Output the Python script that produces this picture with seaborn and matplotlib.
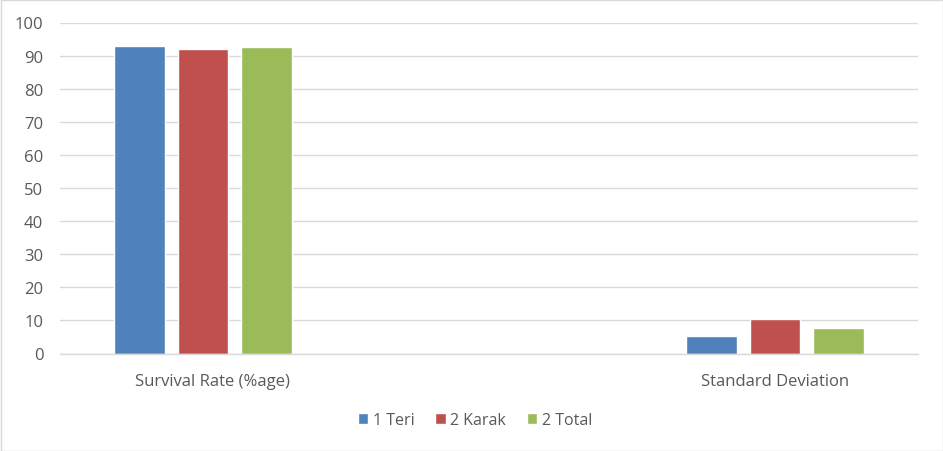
import matplotlib
matplotlib.use("Agg")
import matplotlib.pyplot as plt
import matplotlib.transforms as mtransforms
import seaborn as sns
import pandas as pd
import numpy as np
from matplotlib.patches import Rectangle

categories = ["Survival Rate (%age)", " ", "Standard Deviation"]
series_names = ["1 Teri", "2 Karak", "2 Total"]
teri = [92.9, np.nan, 5.3]
karak = [92.0, np.nan, 10.4]
total = [92.6, np.nan, 7.7]
colors = ["#4F81BD", "#C0504D", "#9BBB59"]
y_ticks = [0, 10, 20, 30, 40, 50, 60, 70, 80, 90, 100]

rows = []
for name, vals in zip(series_names, [teri, karak, total]):
    for c, v in zip(categories, vals):
        rows.append({"category": c, "series": name, "value": v})
df = pd.DataFrame(rows)

sns.set_theme(style="white")
plt.rcParams["font.family"] = ["Open Sans", "DejaVu Sans"]

fig = plt.figure(figsize=(9.43, 4.52), dpi=100)
ax = fig.add_axes([60/943, 1 - 354.5/452, (918-60)/943, (354.5-23.5)/452])

sns.barplot(data=df, x="category", y="value", hue="series", order=categories,
            hue_order=series_names, palette=colors, width=0.666, gap=0.21,
            saturation=1, ax=ax, legend=True, errorbar=None)

ax.set_ylim(0, 100)
ax.set_xlim(-0.5, 2.5)
ax.set_yticks(y_ticks)
ax.yaxis.grid(True, color="#D9D9D9", linewidth=1)
ax.set_axisbelow(True)
for s in ["left", "right", "top"]:
    ax.spines[s].set_visible(False)
ax.spines["bottom"].set_color("#D9D9D9")
ax.spines["bottom"].set_linewidth(1)
ax.tick_params(axis="both", length=0, labelsize=12, labelcolor="#595959")
ax.tick_params(axis="y", pad=12)
ax.tick_params(axis="x", pad=14)
ax.set_xlabel("")
ax.set_ylabel("")

# Excel-like offset of first category label
lbl = ax.get_xticklabels()[0]
lbl.set_transform(lbl.get_transform() + mtransforms.ScaledTranslation(9.5/100, 0, fig.dpi_scale_trans))

handles, labels = ax.get_legend_handles_labels()
ax.get_legend().remove()
fig.legend(handles, labels, loc="center", bbox_to_anchor=(475/943, 1 - 421/452),
           ncol=3, frameon=False, fontsize=11.5, labelcolor="#595959",
           handlelength=0.65, handleheight=0.65, handletextpad=0.3, columnspacing=1.3)

fig.patches.append(Rectangle((0.5/943, 0.5/452), 1 - 1/943, 1 - 1/452,
                             transform=fig.transFigure, fill=False,
                             edgecolor="#D9D9D9", linewidth=1))

fig.savefig("out.png", dpi=100)
